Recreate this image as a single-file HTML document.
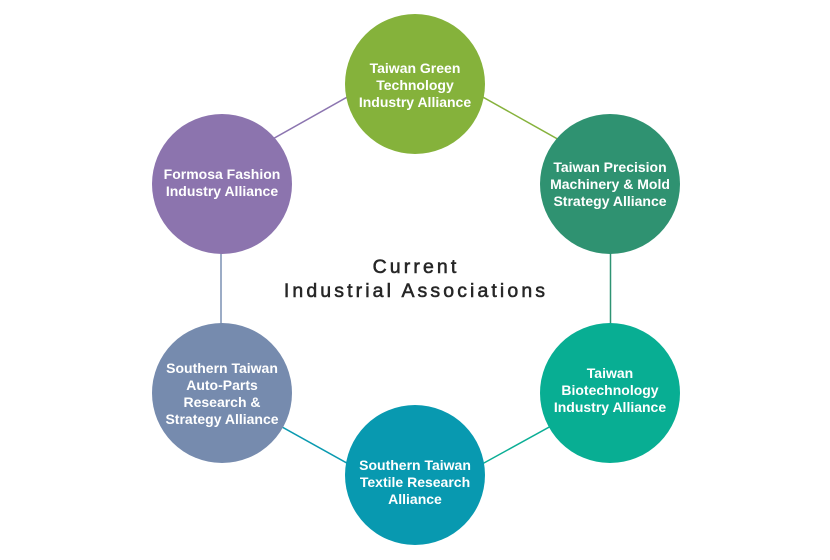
<!DOCTYPE html>
<html>
<head>
<meta charset="utf-8">
<style>
  html,body{margin:0;padding:0;background:#ffffff;}
  body{width:830px;height:560px;overflow:hidden;}
  svg{display:block;}
  .n{font-family:"Liberation Sans",Arial,sans-serif;font-size:14px;font-weight:bold;fill:#ffffff;text-anchor:middle;}
  .t{font-family:"Liberation Sans",Arial,sans-serif;font-size:19.5px;fill:#262626;stroke:#262626;stroke-width:0.55px;letter-spacing:3.1px;text-anchor:middle;}
</style>
</head>
<body>
<svg width="830" height="560" viewBox="0 0 830 560" xmlns="http://www.w3.org/2000/svg">
  <rect x="0" y="0" width="830" height="560" fill="#ffffff"/>
  <!-- connectors (hexagon) -->
  <line x1="415" y1="59" x2="221" y2="168" stroke="#8c75b0" stroke-width="1.5"/>
  <line x1="415" y1="59" x2="611" y2="169" stroke="#86b23c" stroke-width="1.5"/>
  <line x1="610.5" y1="169" x2="610.5" y2="393" stroke="#2e9373" stroke-width="1.5"/>
  <line x1="221" y1="168" x2="221" y2="393" stroke="#7b90b4" stroke-width="1.5"/>
  <line x1="221" y1="393" x2="415" y2="501" stroke="#0a9ab0" stroke-width="1.5"/>
  <line x1="415" y1="501" x2="611" y2="393" stroke="#0bae95" stroke-width="1.5"/>

  <!-- circles -->
  <circle cx="415" cy="84" r="70" fill="#85b23b"/>
  <circle cx="222" cy="184" r="70" fill="#8c74ae"/>
  <circle cx="610" cy="184" r="70" fill="#2f9271"/>
  <circle cx="222" cy="393" r="70" fill="#768bae"/>
  <circle cx="610" cy="393" r="70" fill="#08ae93"/>
  <circle cx="415" cy="475" r="70" fill="#0899b0"/>

  <!-- labels -->
  <text class="n" x="415" y="73">Taiwan Green</text>
  <text class="n" x="415" y="90">Technology</text>
  <text class="n" x="415" y="107">Industry Alliance</text>

  <text class="n" x="222" y="179">Formosa Fashion</text>
  <text class="n" x="222" y="196">Industry Alliance</text>

  <text class="n" x="610" y="172">Taiwan Precision</text>
  <text class="n" x="610" y="189">Machinery &amp; Mold</text>
  <text class="n" x="610" y="206">Strategy Alliance</text>

  <text class="n" x="222" y="373">Southern Taiwan</text>
  <text class="n" x="222" y="390">Auto-Parts</text>
  <text class="n" x="222" y="407">Research &amp;</text>
  <text class="n" x="222" y="424">Strategy Alliance</text>

  <text class="n" x="610" y="378">Taiwan</text>
  <text class="n" x="610" y="395">Biotechnology</text>
  <text class="n" x="610" y="412">Industry Alliance</text>

  <text class="n" x="415" y="470">Southern Taiwan</text>
  <text class="n" x="415" y="487">Textile Research</text>
  <text class="n" x="415" y="504">Alliance</text>

  <!-- title -->
  <text class="t" x="416" y="273">Current</text>
  <text class="t" x="416" y="297">Industrial Associations</text>
</svg>
</body>
</html>
